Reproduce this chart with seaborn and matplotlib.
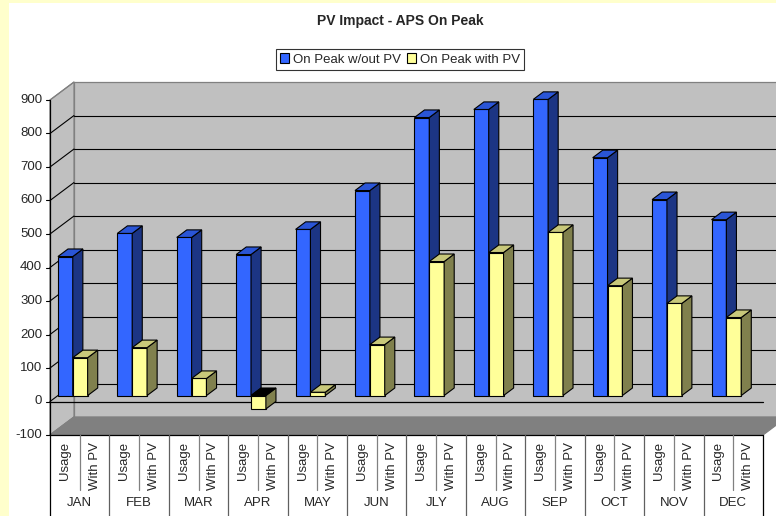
import matplotlib
matplotlib.use("Agg")
import numpy as np
import pandas as pd
import matplotlib.pyplot as plt
from matplotlib.patches import Polygon, Rectangle, Patch
import seaborn as sns

# data
months = ["JAN", "FEB", "MAR", "APR", "MAY", "JUN", "JLY", "AUG", "SEP", "OCT", "NOV", "DEC"]
sub_labels = ["Usage", "With PV"]
series_names = ["On Peak w/out PV", "On Peak with PV"]
usage = [415, 484, 472, 421, 496, 612, 830, 854, 884, 710, 585, 525]
with_pv = [113, 143, 51, -40, 10, 152, 400, 427, 487, 328, 275, 233]
y_ticks = list(range(-100, 1000, 100))

sns.set_style("white")
plt.rcParams["font.family"] = ["Liberation Sans", "DejaVu Sans"]

# fake 3d: oblique depth vector from front plane to back wall (data units)
DX, DY = 0.404, 53.7
BAR_AT = 0.33   # depth where the bar fronts sit
BAR_D = 0.42    # depth of each bar
VMIN, VMAX = -100, 900

front_col = {"On Peak w/out PV": "#3366FF", "On Peak with PV": "#FFFF99"}
side_col = {"On Peak w/out PV": "#1c3584", "On Peak with PV": "#80804d"}
top_col = {"On Peak w/out PV": "#2a55d6", "On Peak with PV": "#c8c87a"}


def fp(x, v, d=0.0):
    # front-plane point (month units, value) at depth d -> axes data coords
    return (x + (d - BAR_AT) * DX, v + (d - BAR_AT) * DY)


rows = []
for i, m in enumerate(months):
    rows.append({"pos": i + 0.125, "value": usage[i], "series": series_names[0]})
    rows.append({"pos": i + 0.375, "value": with_pv[i], "series": series_names[1]})
df = pd.DataFrame(rows)

fig = plt.figure(figsize=(7.76, 5.16), dpi=100)
fig.patch.set_facecolor("#FFFFCC")
fig.patches.append(Rectangle((9 / 776, 0), 1, 513 / 516, transform=fig.transFigure,
                             facecolor="white", edgecolor="none", zorder=-10))

ax = fig.add_axes([50 / 776, 81 / 516, 713 / 776, 335 / 516])
ax.patch.set_alpha(0)

sns.barplot(data=df, x="pos", y="value", hue="series", palette=front_col, saturation=1,
            native_scale=True, orient="x", dodge=False, width=1.0, errorbar=None,
            edgecolor="black", linewidth=0.8, legend=False, ax=ax)

n_cat = len(months)
wall_kw = dict(facecolor="#C0C0C0", edgecolor="#808080", linewidth=0.9, clip_on=False, zorder=0.2)
# back wall, side wall, floor
ax.add_patch(Polygon([fp(0, VMIN, 1), fp(n_cat, VMIN, 1), fp(n_cat, VMAX, 1), fp(0, VMAX, 1)], **wall_kw))
ax.add_patch(Polygon([fp(0, VMIN), fp(0, VMAX), fp(0, VMAX, 1), fp(0, VMIN, 1)], **wall_kw))
ax.add_patch(Polygon([fp(0, VMIN), fp(n_cat, VMIN), fp(n_cat, VMIN, 1), fp(0, VMIN, 1)],
                     facecolor="#808080", edgecolor="#808080", linewidth=0.9, clip_on=False, zorder=0.3))

# gridlines on the walls
for v in y_ticks:
    c = "#808080" if v in (VMIN, VMAX) else "black"
    if v not in (VMIN, VMAX):
        xs, ys = zip(fp(0, v, 1), fp(n_cat, v, 1))
        ax.plot(xs, ys, color=c, lw=0.8, clip_on=False, zorder=0.4)
    xs, ys = zip(fp(0, v), fp(0, v, 1))
    ax.plot(xs, ys, color=c, lw=0.8, clip_on=False, zorder=0.4)

# zero line at the front, floor front edge, value axis
for a, b in [(fp(0, 0), fp(n_cat, 0)), (fp(0, VMIN), fp(n_cat, VMIN)), (fp(0, VMIN), fp(0, VMAX))]:
    xs, ys = zip(a, b)
    ax.plot(xs, ys, color="black", lw=0.9, clip_on=False, zorder=0.5)

for v in y_ticks:
    xs, ys = zip(fp(-0.07, v), fp(0, v))
    ax.plot(xs, ys, color="black", lw=0.8, clip_on=False)
    tx, ty = fp(-0.13, v)
    ax.text(tx, ty, str(v), ha="right", va="center", fontsize=9.5)

# side and top faces for each bar
for p in list(ax.patches):
    if not hasattr(p, "get_width") or p.get_width() < 0.01 or p.get_width() > 1:
        continue
    fc = p.get_facecolor()
    name = series_names[0] if fc[2] > 0.9 and fc[0] < 0.5 else series_names[1]
    z = 3 if name == series_names[0] else 4
    p.set_zorder(z)
    x0, w, v = p.get_x(), p.get_width(), p.get_height()
    x1 = x0 + w
    bdx, bdy = BAR_D * DX, BAR_D * DY
    top = max(v, 0)
    ax.add_patch(Polygon([(x1, 0), (x1 + bdx, bdy), (x1 + bdx, v + bdy), (x1, v)],
                         facecolor=side_col[name], edgecolor="black", lw=0.8, zorder=z, clip_on=False))
    ax.add_patch(Polygon([(x0, top), (x1, top), (x1 + bdx, top + bdy), (x0 + bdx, top + bdy)],
                         facecolor=top_col[name] if v >= 0 else "black",
                         edgecolor="black", lw=0.8, zorder=z, clip_on=False))

# two-level category axis
for i in range(n_cat + 1):
    xs, ys = zip(fp(i, VMIN), fp(i, -360))
    ax.plot(xs, ys, color="black" if i in (0, n_cat) else "#606060", lw=0.9, clip_on=False)
for i, m in enumerate(months):
    xs, ys = zip(fp(i + 0.5, VMIN), fp(i + 0.5, -264))
    ax.plot(xs, ys, color="#808080", lw=0.9, clip_on=False)
    for k, lab in enumerate(sub_labels):
        tx, ty = fp(i + 0.25 + 0.5 * k, -121)
        ax.text(tx, ty, lab, rotation=90, ha="center", va="top", fontsize=9.5)
    tx, ty = fp(i + 0.5, -303)
    ax.text(tx, ty, m, ha="center", va="center", fontsize=9.5)

ax.set_xlim(fp(0, 0)[0], fp(n_cat, 0)[0])
ax.set_ylim(fp(0, VMIN)[1], fp(0, VMAX)[1])
ax.set_axis_off()

handles = [Patch(facecolor=front_col[s], edgecolor="black", linewidth=0.8, label=s) for s in series_names]
leg = fig.legend(handles=handles, loc="center", bbox_to_anchor=(400 / 776, 1 - 59.5 / 516), ncol=2,
                 fontsize=9.5, frameon=True, fancybox=False, edgecolor="black",
                 handlelength=0.7, handleheight=0.7, handletextpad=0.3, columnspacing=0.4,
                 borderpad=0.3, borderaxespad=0)
leg.get_frame().set_linewidth(0.8)

fig.text(400 / 776, 1 - 21 / 516, "PV Impact - APS On Peak", ha="center", va="center",
         fontsize=10, fontweight="bold")

fig.savefig("out.png", dpi=100, facecolor=fig.get_facecolor())
